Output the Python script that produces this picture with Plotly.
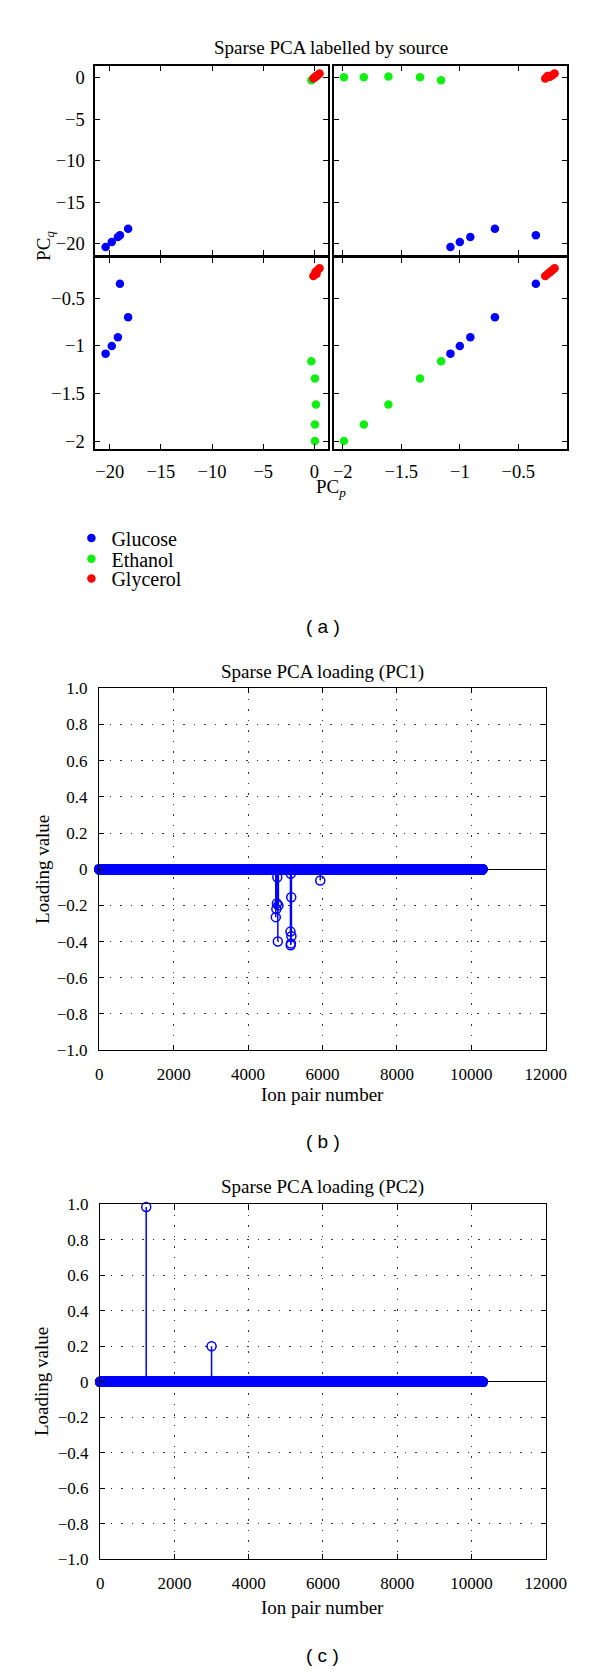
import numpy as np
import plotly.graph_objects as go

W, H = 600, 1672
SERIF = "Liberation Serif"
SANS = "Liberation Sans"

# ---------------- Panel (a): sparse PCA scores by source ----------------
groups = ["Glucose", "Ethanol", "Glycerol"]
group_colors = ["#0000ff", "#11ee11", "#ff0000"]
score_p = {  # first variable (x of left column / y of top row)
    "Glucose": [-20.4, -19.8, -19.2, -19.0, -18.2],
    "Ethanol": [0.05, 0.05, 0.15, 0.05, -0.3],
    "Glycerol": [0.5, 0.3, 0.1, 0.2, -0.1],
}
score_q = {  # second variable (x of right column / y of bottom row)
    "Glucose": [-1.08, -1.00, -0.91, -0.35, -0.70],
    "Ethanol": [-1.99, -1.82, -1.61, -1.34, -1.16],
    "Glycerol": [-0.19, -0.21, -0.23, -0.25, -0.27],
}
p_ticks = [-20, -15, -10, -5, 0]
q_ticks = [-2, -1.5, -1, -0.5]
p_range = [-21.4, 1.35]
q_range = [-2.075, -0.085]

# ---------------- Panels (b), (c): loadings ----------------
n_ion_pairs = 10300
pc1_nonzero_idx = [4745, 4760, 4775, 4785, 4800, 4815, 5140, 5145, 5148, 5152, 5160, 5165, 5940]
pc1_nonzero_val = [-0.265, -0.22, -0.19, -0.045, -0.40, -0.20, -0.345, -0.42, -0.025, -0.41, -0.155, -0.37, -0.062]
pc2_nonzero_idx = [1240, 3000]
pc2_nonzero_val = [0.985, 0.20]
load_x_ticks = [0, 2000, 4000, 6000, 8000, 10000, 12000]
load_y_ticks = [1.0, 0.8, 0.6, 0.4, 0.2, 0, -0.2, -0.4, -0.6, -0.8, -1.0]
load_y_text = ["1.0", "0.8", "0.6", "0.4", "0.2", "0", "\u22120.2", "\u22120.4", "\u22120.6", "\u22120.8", "\u22121.0"]


def fx(px):
    return px / W


def fy(py):
    return 1 - py / H


fig = go.Figure()

# subplot layout for panel (a): (row, col) -> axis index
cells = {(0, 0): 1, (0, 1): 2, (1, 0): 3, (1, 1): 4}
col_px = [(87, 330), (336, 579)]
row_px = [(50, 241), (244, 437)]
var_of = [score_p, score_q]
legend_names = ["legend", "legend2", "legend3"]
legend_rows = [527, 548, 568]

for (r, c), k in cells.items():
    for gi, (g, col) in enumerate(zip(groups, group_colors)):
        fig.add_trace(go.Scatter(
            x=var_of[c][g], y=var_of[r][g], mode="markers",
            marker=dict(color=col, size=8.5, line=dict(width=0)),
            name=g, legendgroup=g, showlegend=(k == 1), legend=legend_names[gi],
            xaxis=f"x{'' if k == 1 else k}", yaxis=f"y{'' if k == 1 else k}",
            cliponaxis=False,
        ))

axis_common = dict(showline=True, mirror="ticks", linecolor="black", linewidth=1.8,
                   ticks="inside", ticklen=5, tickwidth=1.2, tickcolor="black",
                   showgrid=False, zeroline=False,
                   tickfont=dict(family=SERIF, size=18.5, color="black"))

for (r, c), k in cells.items():
    sfx = "" if k == 1 else str(k)
    xr = p_range if c == 0 else q_range
    yr = p_range if r == 0 else q_range
    xt = p_ticks if c == 0 else q_ticks
    yt = p_ticks if r == 0 else q_ticks
    fig.layout[f"xaxis{sfx}"] = dict(
        axis_common, domain=[fx(col_px[c][0]), fx(col_px[c][1])], range=xr,
        tickvals=xt, ticktext=[("\u2212" if v < 0 else "") + f"{abs(v):g}" for v in xt],
        showticklabels=(r == 1), anchor=f"y{sfx}", ticklabelstandoff=5)
    fig.layout[f"yaxis{sfx}"] = dict(
        axis_common, domain=[fy(row_px[r][1]), fy(row_px[r][0])], range=yr,
        tickvals=yt, ticktext=[("\u2212" if v < 0 else "") + f"{abs(v):g}" for v in yt],
        showticklabels=(c == 0), anchor=f"x{sfx}", ticklabelstandoff=5)

# ---------------- loading panels ----------------
ions = np.arange(1, n_ion_pairs + 1)


def loading_vec(idx, val):
    v = np.zeros(n_ion_pairs)
    v[np.array(idx) - 1] = val
    return v


panels = [
    (5, loading_vec(pc1_nonzero_idx, pc1_nonzero_val), (91, 557), (679, 1045)),
    (6, loading_vec(pc2_nonzero_idx, pc2_nonzero_val), (92, 557), (1201, 1560)),
]
for k, vec, xp, yp in panels:
    nz = np.nonzero(vec)[0]
    sx, sy = [], []
    for i in nz:
        sx += [ions[i], ions[i], None]
        sy += [0, vec[i], None]
    fig.add_trace(go.Scatter(x=sx, y=sy, mode="lines", line=dict(color="#0000ff", width=1.5),
                             showlegend=False, xaxis=f"x{k}", yaxis=f"y{k}", hoverinfo="skip"))
    fig.add_trace(go.Scatter(x=ions, y=vec, mode="markers",
                             marker=dict(symbol="circle-open", size=9, color="#0000ff",
                                         line=dict(width=1.5, color="#0000ff")),
                             showlegend=False, xaxis=f"x{k}", yaxis=f"y{k}", cliponaxis=False))
    fig.layout[f"xaxis{k}"] = dict(
        axis_common, linewidth=1.4,
        domain=[fx(xp[0]), fx(xp[1])], range=[0, 12000], tickvals=load_x_ticks,
        ticktext=[str(v) for v in load_x_ticks], anchor=f"y{k}", ticklabelstandoff=8)
    fig.layout[f"xaxis{k}"].update(showgrid=True, gridcolor="#333333", gridwidth=1,
                                   griddash="1.5px,9px", tickfont=dict(size=17))
    fig.layout[f"yaxis{k}"] = dict(
        axis_common, linewidth=1.4,
        domain=[fy(yp[1]), fy(yp[0])], range=[-1, 1], tickvals=load_y_ticks,
        ticktext=load_y_text, anchor=f"x{k}", ticklabelstandoff=7)
    fig.layout[f"yaxis{k}"].update(showgrid=True, gridcolor="#333333", gridwidth=1,
                                   griddash="1.5px,9px", zeroline=True,
                                   zerolinecolor="black", zerolinewidth=1.2,
                                   layer="above traces",
                                   tickfont=dict(size=17))

# ---------------- text ----------------
def ann(text, x, y, size=19, family=SERIF, angle=0):
    fig.add_annotation(text=text, x=fx(x), y=fy(y), xref="paper", yref="paper",
                       showarrow=False, textangle=angle, xanchor="center", yanchor="middle",
                       font=dict(family=family, size=size, color="black"))


ann("Sparse PCA labelled by source", 333, 31)
ann("PC<sub><i>q</i></sub>", 35, 232, angle=-90)
ann("PC<sub><i>p</i></sub>", 333, 476)
ann("( a )", 324, 617, size=19, family=SANS)

ann("Sparse PCA loading (PC1)", 324, 663)
ann("Loading value", 31, 862, angle=-90)
ann("Ion pair number", 324, 1090)
ann("( b )", 324, 1137, size=19, family=SANS)

ann("Sparse PCA loading (PC2)", 324, 1183)
ann("Loading value", 31, 1380, angle=-90)
ann("Ion pair number", 324, 1609)
ann("( c )", 324, 1657, size=19, family=SANS)

legend_style = dict(xanchor="left", yanchor="middle",
                    font=dict(family=SERIF, size=20, color="black"),
                    bgcolor="rgba(0,0,0,0)", itemsizing="trace")
layout_legends = {}
for ln, ry in zip(legend_names, legend_rows):
    layout_legends[ln] = dict(legend_style, x=fx(62), y=fy(ry))

fig.update_layout(
    width=W, height=H, autosize=False,
    margin=dict(l=0, r=0, t=0, b=0),
    paper_bgcolor="white", plot_bgcolor="white",
    showlegend=True,
    font=dict(family=SERIF, color="black"),
    **layout_legends,
)

fig.write_html("out.html")
